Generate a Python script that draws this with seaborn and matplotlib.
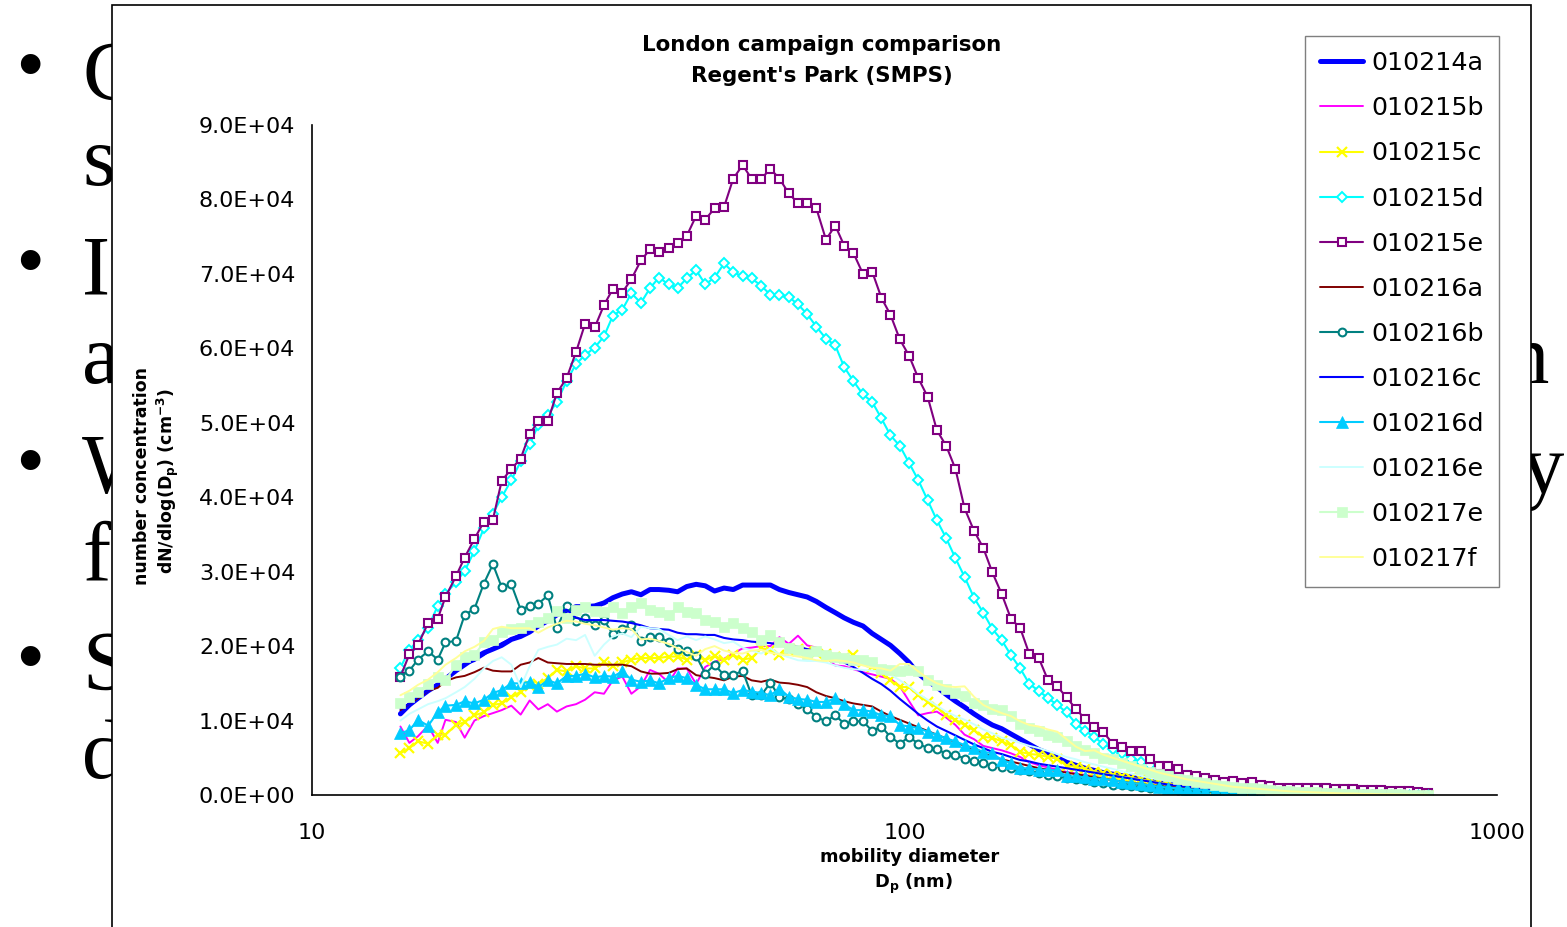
import numpy as np
import pandas as pd
import matplotlib
matplotlib.use("Agg")
import matplotlib.pyplot as plt
import seaborn as sns
from matplotlib.patches import Rectangle
from matplotlib.transforms import Bbox, TransformedBbox
from matplotlib.ticker import (MultipleLocator, LogLocator, FixedLocator,
                               FuncFormatter, NullFormatter)

# SMPS channel midpoints (nm), 64 channels per decade
diameter_nm = [
    14.1, 14.6, 15.1, 15.7, 16.3, 16.8, 17.5, 18.1, 18.8, 19.5,
    20.2, 20.9, 21.7, 22.5, 23.3, 24.1, 25.0, 25.9, 26.9, 27.9,
    28.9, 30.0, 31.1, 32.2, 33.4, 34.6, 35.9, 37.2, 38.5, 40.0,
    41.4, 42.9, 44.5, 46.1, 47.8, 49.6, 51.4, 53.3, 55.2, 57.3,
    59.4, 61.5, 63.8, 66.1, 68.5, 71.0, 73.7, 76.4, 79.1, 82.0,
    85.1, 88.2, 91.4, 94.7, 98.2, 101.8, 105.5, 109.4, 113.4, 117.6,
    121.9, 126.3, 131.0, 135.8, 140.7, 145.9, 151.2, 156.8, 162.5, 168.5,
    174.7, 181.1, 187.7, 194.6, 201.7, 209.1, 216.7, 224.7, 232.9, 241.4,
    250.3, 259.5, 269.0, 278.8, 289.0, 299.6, 310.6, 322.0, 333.8, 346.0,
    358.7, 371.8, 385.4, 399.5, 414.2, 429.4, 445.1, 461.4, 478.3, 495.8,
    514.0, 532.8, 552.3, 572.5, 593.5, 615.3, 637.8, 661.2, 685.4, 710.5,
    736.5, 763.5,
]

# dN/dlog(Dp) per sample, in thousands of particles per cm3
dn_010214a = [
    10.9, 12.1, 13.0, 14.0, 14.8, 15.6, 16.7, 17.5, 18.4, 19.1,
    19.6, 20.1, 20.9, 21.3, 21.9, 22.7, 23.4, 24.2, 24.8, 25.3,
    25.3, 25.4, 25.8, 26.5, 27.0, 27.3, 26.9, 27.6, 27.6, 27.5,
    27.3, 28.0, 28.3, 28.1, 27.4, 27.8, 27.6, 28.2, 28.2, 28.2,
    28.2, 27.6, 27.2, 26.9, 26.6, 26.0, 25.2, 24.5, 23.8, 23.2,
    22.7, 21.7, 20.9, 20.1, 19.0, 17.8, 16.3, 15.3, 14.5, 13.5,
    12.6, 11.8, 10.9, 10.1, 9.4, 8.9, 8.2, 7.5, 6.8, 6.1,
    5.6, 5.0, 4.4, 4.0, 3.6, 3.3, 3.0, 2.8, 2.6, 2.4,
    2.2, 2.0, 1.8, 1.6, 1.4, 1.2, 1.1, 1.0, 0.9, 0.8,
    0.7, 0.6, 0.5, 0.45, 0.4, 0.35, 0.3, 0.25, 0.2, 0.2,
    0.15, 0.15, 0.1, 0.1, 0.1, 0.08, 0.08, 0.06, 0.05, 0.05,
    0.04, 0.03,
]
dn_010215b = [
    9.2, 7.0, 7.9, 9.3, 7.0, 10.1, 9.8, 7.7, 10.0, 10.6,
    11.0, 11.4, 12.0, 10.8, 12.7, 11.5, 12.2, 11.2, 11.9, 12.2,
    12.8, 13.8, 13.6, 15.4, 15.9, 13.6, 14.6, 16.8, 16.3, 15.1,
    17.0, 17.0, 14.9, 17.2, 17.9, 18.3, 19.0, 19.7, 19.8, 20.0,
    20.0, 21.2, 20.3, 21.4, 20.1, 19.8, 18.5, 17.4, 17.3, 16.9,
    16.5, 16.2, 15.9, 15.6, 14.6, 12.6, 10.7, 11.0, 11.2, 10.4,
    9.4, 8.1, 7.5, 6.6, 6.3, 6.0, 5.6, 5.1, 4.4, 4.0,
    3.7, 3.4, 3.1, 2.9, 2.7, 2.5, 2.3, 2.1, 1.9, 1.7,
    1.5, 1.4, 1.2, 1.1, 1.0, 0.9, 0.8, 0.7, 0.6, 0.5,
    0.45, 0.4, 0.35, 0.3, 0.25, 0.2, 0.2, 0.15, 0.15, 0.1,
    0.1, 0.1, 0.08, 0.08, 0.06, 0.06, 0.05, 0.05, 0.04, 0.04,
    0.03, 0.03,
]
dn_010215c = [
    5.6, 6.3, 7.2, 6.9, 8.1, 8.1, 9.4, 9.8, 10.7, 11.1,
    12.1, 12.3, 13.1, 13.9, 14.6, 14.9, 15.7, 16.8, 16.6, 17.3,
    17.0, 17.0, 17.8, 17.3, 17.8, 18.2, 18.4, 18.4, 18.4, 18.6,
    18.6, 18.2, 18.8, 18.1, 18.7, 18.1, 18.8, 18.2, 18.4, 19.7,
    19.5, 18.8, 19.3, 19.6, 19.3, 19.1, 19.0, 18.6, 18.4, 18.8,
    17.9, 17.2, 16.4, 15.4, 14.5, 14.5, 13.4, 12.5, 11.8, 10.7,
    10.1, 9.4, 8.7, 7.8, 7.7, 7.2, 6.7, 5.8, 5.5, 5.4,
    5.1, 4.9, 3.9, 3.8, 3.5, 3.1, 2.9, 2.7, 2.5, 2.3,
    2.1, 1.9, 1.7, 1.5, 1.4, 1.2, 1.1, 1.0, 0.9, 0.8,
    0.7, 0.6, 0.5, 0.45, 0.4, 0.35, 0.3, 0.25, 0.2, 0.2,
    0.15, 0.15, 0.1, 0.1, 0.08, 0.08, 0.06, 0.06, 0.05, 0.05,
    0.04, 0.03,
]
dn_010215d = [
    17.1, 19.5, 20.8, 22.5, 25.4, 27.0, 28.6, 30.1, 32.8, 35.8,
    37.8, 40.0, 42.3, 44.8, 47.1, 49.7, 51.0, 52.8, 55.6, 57.9,
    59.1, 60.1, 61.6, 64.4, 65.2, 67.4, 66.1, 68.1, 69.5, 68.6,
    68.1, 69.4, 70.5, 68.6, 69.5, 71.4, 70.2, 69.7, 69.4, 68.4,
    67.2, 67.2, 66.9, 65.9, 64.6, 62.9, 61.3, 60.4, 57.5, 55.6,
    53.8, 52.8, 50.6, 48.3, 46.9, 44.6, 42.3, 39.6, 36.9, 34.5,
    31.8, 29.3, 26.5, 24.5, 22.3, 20.8, 18.8, 17.0, 14.9, 14.0,
    13.0, 12.1, 11.1, 9.6, 8.6, 7.8, 6.8, 6.2, 5.6, 4.9,
    4.4, 4.0, 3.7, 3.3, 3.0, 2.6, 2.3, 2.0, 1.8, 1.5,
    1.3, 1.1, 1.0, 0.9, 0.8, 0.7, 0.6, 0.5, 0.45, 0.4,
    0.35, 0.3, 0.3, 0.25, 0.2, 0.2, 0.15, 0.15, 0.1, 0.1,
    0.1, 0.05,
]
dn_010215e = [
    15.9, 18.9, 20.2, 23.1, 23.7, 26.6, 29.4, 31.9, 34.4, 36.7,
    37.0, 42.2, 43.8, 45.2, 48.5, 50.2, 50.2, 54.0, 56.0, 59.5,
    63.3, 62.8, 65.8, 68.0, 67.5, 69.3, 71.8, 73.3, 73.0, 73.5,
    74.1, 75.1, 77.8, 77.3, 78.8, 79.0, 82.8, 84.6, 82.8, 82.8,
    84.1, 82.8, 80.8, 79.5, 79.5, 78.8, 74.6, 76.5, 73.8, 72.8,
    70.0, 70.3, 66.8, 64.5, 61.2, 59.0, 56.0, 53.5, 49.0, 46.9,
    43.8, 38.5, 35.5, 33.2, 29.9, 27.0, 23.7, 22.4, 18.9, 18.4,
    15.4, 14.6, 13.1, 11.6, 10.2, 9.1, 8.4, 6.9, 6.4, 5.9,
    5.9, 4.9, 3.9, 3.9, 3.5, 2.7, 2.6, 2.3, 2.0, 1.8,
    1.9, 1.6, 1.7, 1.3, 1.2, 1.0, 1.0, 0.9, 0.9, 0.9,
    0.9, 0.8, 0.8, 0.8, 0.7, 0.7, 0.7, 0.6, 0.6, 0.5,
    0.4, 0.3,
]
dn_010216a = [
    11.4, 12.3, 13.0, 14.0, 14.4, 15.3, 15.8, 16.0, 16.5, 17.1,
    16.7, 16.6, 16.6, 17.5, 17.8, 18.4, 17.8, 17.7, 17.6, 17.6,
    17.6, 17.5, 17.5, 17.5, 17.5, 17.3, 16.6, 16.3, 16.3, 16.4,
    16.9, 17.0, 16.1, 15.9, 15.7, 15.4, 15.9, 16.0, 15.4, 15.2,
    15.5, 15.1, 15.0, 14.8, 14.5, 13.8, 13.3, 13.0, 12.6, 12.3,
    12.1, 11.9, 11.2, 10.6, 10.1, 9.6, 9.1, 8.6, 8.1, 7.6,
    7.1, 6.6, 6.1, 5.6, 5.2, 4.8, 4.5, 4.2, 3.9, 3.6,
    3.4, 3.2, 3.0, 2.8, 2.6, 2.4, 2.2, 2.0, 1.8, 1.6,
    1.5, 1.3, 1.2, 1.1, 1.0, 0.9, 0.8, 0.7, 0.6, 0.5,
    0.45, 0.4, 0.35, 0.3, 0.25, 0.2, 0.2, 0.15, 0.15, 0.1,
    0.1, 0.1, 0.08, 0.08, 0.06, 0.06, 0.05, 0.05, 0.04, 0.04,
    0.03, 0.03,
]
dn_010216b = [
    15.9, 16.7, 18.2, 19.3, 18.2, 20.5, 20.7, 24.2, 25.0, 28.4,
    31.0, 27.9, 28.3, 24.9, 25.4, 25.7, 26.8, 22.4, 25.4, 23.4,
    23.8, 22.9, 23.5, 21.6, 22.3, 22.9, 20.7, 21.2, 21.2, 20.6,
    19.6, 19.4, 18.7, 16.3, 17.5, 16.1, 16.1, 16.7, 13.4, 13.4,
    15.1, 13.1, 12.9, 12.2, 11.6, 10.5, 9.9, 10.7, 9.6, 9.9,
    9.9, 8.6, 9.2, 7.8, 6.9, 7.8, 6.9, 6.3, 6.2, 5.5,
    5.4, 4.9, 4.6, 4.3, 3.9, 3.8, 3.6, 3.4, 3.2, 3.0,
    2.7, 2.5, 2.3, 2.2, 2.0, 1.8, 1.6, 1.4, 1.3, 1.2,
    1.1, 1.0, 0.9, 0.8, 0.7, 0.6, 0.55, 0.5, 0.45, 0.4,
    0.35, 0.3, 0.3, 0.25, 0.25, 0.2, 0.2, 0.15, 0.15, 0.15,
    0.1, 0.1, 0.1, 0.1, 0.08, 0.08, 0.06, 0.06, 0.05, 0.05,
    0.04, 0.04,
]
dn_010216c = [
    11.6, 12.3, 13.2, 14.0, 14.8, 15.6, 16.8, 17.5, 18.0, 18.8,
    19.7, 20.4, 21.0, 21.6, 22.2, 22.8, 23.4, 24.3, 24.9, 23.8,
    23.5, 23.5, 23.5, 23.4, 23.3, 23.1, 22.8, 22.4, 22.3, 22.2,
    21.8, 21.6, 21.6, 21.5, 21.5, 21.1, 20.9, 20.8, 20.6, 20.5,
    20.4, 20.2, 20.1, 19.9, 19.6, 19.3, 18.9, 18.5, 17.8, 17.2,
    16.4, 15.6, 14.9, 14.0, 12.9, 11.9, 10.9, 10.0, 9.2, 8.6,
    8.0, 7.4, 6.8, 6.3, 5.8, 5.5, 5.1, 4.7, 4.5, 4.2,
    4.0, 3.8, 3.6, 3.4, 3.2, 3.0, 2.8, 2.6, 2.4, 2.2,
    2.0, 1.8, 1.6, 1.4, 1.3, 1.1, 1.0, 0.9, 0.8, 0.7,
    0.6, 0.5, 0.45, 0.4, 0.35, 0.3, 0.25, 0.2, 0.2, 0.15,
    0.15, 0.1, 0.1, 0.1, 0.08, 0.08, 0.06, 0.06, 0.05, 0.05,
    0.04, 0.03,
]
dn_010216d = [
    8.3, 8.7, 10.1, 9.3, 11.1, 12.0, 12.1, 12.6, 12.3, 12.8,
    13.7, 14.1, 15.0, 15.0, 15.2, 14.5, 15.4, 15.0, 16.0, 16.0,
    16.3, 15.8, 16.0, 15.9, 16.6, 15.5, 15.2, 15.4, 15.0, 15.7,
    16.0, 15.7, 14.8, 14.2, 14.2, 14.2, 13.7, 14.1, 13.9, 13.7,
    13.4, 14.3, 13.2, 12.9, 12.8, 12.5, 12.5, 13.0, 12.2, 11.4,
    11.4, 11.2, 10.7, 10.6, 9.4, 9.2, 9.0, 8.5, 8.1, 7.6,
    7.2, 6.7, 6.3, 5.8, 5.6, 4.7, 4.3, 3.6, 3.6, 3.4,
    3.4, 3.3, 2.5, 2.5, 2.4, 2.2, 2.2, 2.0, 1.8, 1.6,
    1.5, 1.3, 1.1, 1.0, 0.9, 0.8, 0.7, 0.6, 0.5, 0.4,
    0.35, 0.3, 0.25, 0.2, 0.2, 0.15, 0.15, 0.1, 0.1, 0.1,
    0.08, 0.08, 0.06, 0.06, 0.05, 0.05, 0.04, 0.04, 0.03, 0.03,
    0.02, 0.02,
]
dn_010216e = [
    10.0, 10.9, 11.5, 12.2, 12.6, 13.0, 13.8, 14.5, 15.6, 17.0,
    18.0, 18.5, 17.5, 14.5, 17.3, 19.5, 19.9, 20.2, 21.0, 20.8,
    21.5, 18.7, 20.2, 21.3, 21.7, 21.2, 22.6, 22.4, 22.3, 21.5,
    20.8, 21.3, 20.8, 21.3, 20.9, 20.4, 20.6, 19.8, 19.4, 19.0,
    19.7, 18.9, 18.5, 18.1, 18.0, 18.0, 17.8, 17.4, 17.1, 16.9,
    16.8, 16.7, 16.6, 16.2, 15.4, 14.6, 13.6, 12.8, 12.0, 11.2,
    10.6, 10.1, 9.5, 8.8, 8.3, 7.7, 7.4, 7.0, 6.6, 6.3,
    5.9, 5.5, 5.1, 4.8, 4.4, 4.1, 3.8, 3.5, 3.2, 2.9,
    2.6, 2.3, 2.1, 1.9, 1.7, 1.5, 1.3, 1.1, 1.0, 0.9,
    0.8, 0.7, 0.6, 0.5, 0.45, 0.4, 0.35, 0.3, 0.25, 0.2,
    0.2, 0.15, 0.15, 0.1, 0.1, 0.08, 0.08, 0.06, 0.05, 0.05,
    0.04, 0.03,
]
dn_010217e = [
    12.3, 13.2, 13.8, 14.9, 15.9, 15.4, 17.5, 18.5, 18.8, 20.5,
    20.8, 21.9, 22.3, 22.5, 22.8, 23.3, 23.8, 24.7, 23.8, 24.8,
    25.2, 24.7, 24.6, 25.2, 24.4, 25.3, 25.8, 24.9, 24.6, 24.2,
    25.2, 24.6, 24.4, 23.5, 23.3, 22.6, 23.1, 22.4, 21.9, 20.8,
    21.5, 20.6, 19.7, 19.5, 19.0, 19.3, 18.8, 18.5, 18.4, 18.1,
    18.1, 17.8, 16.9, 16.8, 16.6, 16.8, 16.6, 15.4, 14.8, 14.3,
    13.7, 13.3, 12.3, 12.1, 11.5, 11.4, 10.6, 9.5, 9.0, 8.6,
    8.0, 7.8, 7.2, 6.6, 6.0, 5.7, 5.0, 4.8, 4.3, 3.9,
    3.5, 3.1, 2.8, 2.5, 2.2, 2.0, 1.8, 1.6, 1.4, 1.2,
    1.1, 1.0, 0.9, 0.8, 0.7, 0.6, 0.5, 0.45, 0.4, 0.35,
    0.3, 0.25, 0.2, 0.2, 0.15, 0.15, 0.1, 0.1, 0.1, 0.05,
    0.05, 0.02,
]
dn_010217f = [
    13.4, 14.0, 14.8, 15.5, 16.5, 17.5, 18.4, 19.3, 19.9, 20.7,
    22.3, 22.6, 22.4, 22.4, 22.4, 21.8, 22.5, 23.0, 23.4, 23.3,
    23.0, 22.8, 22.5, 22.2, 22.4, 22.3, 20.9, 21.0, 20.7, 20.3,
    19.7, 19.2, 18.7, 19.6, 20.0, 19.4, 19.1, 19.0, 19.4, 19.5,
    19.1, 18.9, 18.8, 18.6, 18.4, 18.1, 18.0, 18.1, 18.0, 17.8,
    17.4, 17.1, 17.0, 16.7, 17.6, 17.6, 16.6, 15.7, 15.0, 14.6,
    14.5, 14.6, 13.2, 12.1, 11.5, 11.0, 10.6, 9.9, 9.4, 9.2,
    8.8, 8.5, 7.5, 6.5, 5.9, 6.0, 5.4, 5.0, 4.6, 4.2,
    3.8, 3.4, 3.0, 2.7, 2.4, 2.1, 1.9, 1.7, 1.5, 1.3,
    1.1, 1.0, 0.9, 0.8, 0.7, 0.6, 0.5, 0.45, 0.4, 0.35,
    0.3, 0.25, 0.2, 0.2, 0.15, 0.15, 0.1, 0.1, 0.08, 0.06,
    0.05, 0.03,
]

sample_ids = ["010214a", "010215b", "010215c", "010215d", "010215e", "010216a",
              "010216b", "010216c", "010216d", "010216e", "010217e", "010217f"]
sample_values = [dn_010214a, dn_010215b, dn_010215c, dn_010215d, dn_010215e,
                 dn_010216a, dn_010216b, dn_010216c, dn_010216d, dn_010216e,
                 dn_010217e, dn_010217f]

y_ticks = [0, 10000, 20000, 30000, 40000, 50000, 60000, 70000, 80000, 90000]
x_ticks = [10, 100, 1000]

# line / marker style of each sample
styles = {
    "010214a": dict(color="#0000FF", lw=3.6),
    "010215b": dict(color="#FF00FF", lw=1.4),
    "010215c": dict(color="#FFFF00", lw=1.5, marker="x", ms=7, mew=1.6, mec="#FFFF00"),
    "010215d": dict(color="#00FFFF", lw=1.5, marker="D", ms=5.2, mew=1.4,
                    mec="#00FFFF", mfc="white"),
    "010215e": dict(color="#800080", lw=1.5, marker="s", ms=5.8, mew=1.5,
                    mec="#800080", mfc="white"),
    "010216a": dict(color="#800000", lw=1.4),
    "010216b": dict(color="#008080", lw=1.5, marker="o", ms=5.6, mew=1.5,
                    mec="#008080", mfc="white"),
    "010216c": dict(color="#0000FF", lw=1.5),
    "010216d": dict(color="#00CCFF", lw=1.5, marker="^", ms=8.5, mew=0.5,
                    mec="#00CCFF", mfc="#00CCFF"),
    "010216e": dict(color="#CCFFFF", lw=1.4),
    "010217e": dict(color="#CCFFCC", lw=1.5, marker="s", ms=7.5, mew=0.5,
                    mec="#CCFFCC", mfc="#CCFFCC"),
    "010217f": dict(color="#FFFF99", lw=1.4),
}

df = pd.DataFrame({
    "diameter": np.tile(diameter_nm, len(sample_ids)),
    "dn": np.concatenate(sample_values) * 1000.0,
    "sample": np.repeat(sample_ids, len(diameter_nm)),
})

sns.set_style("white")
plt.rcParams["font.family"] = ["DejaVu Sans"]
plt.rcParams["mathtext.fontset"] = "dejavusans"
for key in ["text.color", "axes.labelcolor", "xtick.color", "ytick.color",
            "axes.edgecolor"]:
    plt.rcParams[key] = "black"

W, H = 1567, 927
fig = plt.figure(figsize=(W / 100, H / 100), dpi=100)
fig.patch.set_facecolor("white")


def fx(px):
    return px / W


def fy(py):
    return 1 - py / H


# slide bullet text peeking out around the chart frame
left_clip = TransformedBbox(Bbox([[0, 0], [fx(112), 1]]), fig.transFigure)
right_clip = TransformedBbox(Bbox([[fx(1531), 0], [1, 1]]), fig.transFigure)

serif = "Liberation Serif"
for yb in [70, 266, 465, 661]:
    fig.text(fx(30), fy(yb), "\u2022", ha="center", va="center", fontsize=52,
             family="Liberation Sans", color="black", zorder=-3)
slide_starts = [(100, "C"), (185, "s"), (295, "I"), (383, "a"),
                (493, "W"), (580, "f"), (690, "S"), (778, "d")]
for yb, txt in slide_starts:
    t = fig.text(fx(82), fy(yb), txt, ha="left", va="baseline", fontsize=61,
                 family=serif, color="black", zorder=-3)
    t.set_clip_box(left_clip)
    t.set_clip_on(True)
for yb, xr, txt in [(383, 1549, "n"), (493, 1564, "y")]:
    t = fig.text(fx(xr), fy(yb), txt, ha="right", va="baseline", fontsize=61,
                 family=serif, color="black", zorder=-3)
    t.set_clip_box(right_clip)
    t.set_clip_on(True)

# chart frame
frame = Rectangle((fx(112), fy(940)), fx(1531) - fx(112), fy(5) - fy(940),
                  transform=fig.transFigure, facecolor="white",
                  edgecolor="black", linewidth=1.2, zorder=-1)
fig.add_artist(frame)

ax = fig.add_axes([fx(312), fy(795), fx(1497) - fx(312), fy(125) - fy(795)])
ax.set_facecolor("none")
ax.set_xscale("log")

for sid in sample_ids:
    sub = df[df["sample"] == sid]
    sns.lineplot(data=sub, x="diameter", y="dn", ax=ax, label=sid,
                 estimator=None, sort=False, **styles[sid])

ax.set_xlim(10, 1000)
ax.set_ylim(0, 90000)
ax.set_xlabel("")
ax.set_ylabel("")

ax.xaxis.set_major_locator(FixedLocator(x_ticks))
ax.xaxis.set_major_formatter(FuncFormatter(lambda v, _: f"{v:g}"))
ax.xaxis.set_minor_locator(LogLocator(base=10, subs=range(2, 10)))
ax.xaxis.set_minor_formatter(NullFormatter())
ax.yaxis.set_major_locator(FixedLocator(y_ticks))
ax.yaxis.set_major_formatter(FuncFormatter(lambda v, _: f"{v:.1E}"))
ax.yaxis.set_minor_locator(MultipleLocator(2000))

for side in ["top", "right"]:
    ax.spines[side].set_visible(False)
for side in ["left", "bottom"]:
    ax.spines[side].set_color("black")
    ax.spines[side].set_linewidth(1.2)

ax.tick_params(axis="both", which="major", direction="out", length=6,
               width=1.1, color="black", labelsize=16, labelcolor="black")
ax.tick_params(axis="both", which="minor", direction="out", length=3.5,
               width=1.0, color="black")
ax.tick_params(axis="y", which="major", pad=6)
ax.tick_params(axis="x", which="major", pad=14)

# titles and axis labels
fig.text(fx(822), fy(45), "London campaign comparison", ha="center",
         va="center", fontsize=15.4, weight="bold")
fig.text(fx(822), fy(76), "Regent's Park (SMPS)", ha="center", va="center",
         fontsize=15.4, weight="bold")
fig.text(fx(910), fy(857), "mobility diameter", ha="center", va="center",
         fontsize=12.9, weight="bold")
fig.text(fx(913), fy(884), r"$\mathbf{D_p}$ (nm)", ha="center", va="center",
         fontsize=12.9, weight="bold")
fig.text(fx(142), fy(476), "number concentration", ha="center", va="center",
         rotation=90, fontsize=12.5, weight="bold")
fig.text(fx(168), fy(481), r"dN/dlog($\mathbf{D_p}$) (cm$^{\mathbf{-3}}$)",
         ha="center", va="center", rotation=90, fontsize=12.5, weight="bold")

handles, labels = ax.get_legend_handles_labels()
leg = ax.legend(handles, labels, loc="upper left",
                bbox_to_anchor=(fx(1305), fy(36)),
                bbox_transform=fig.transFigure, borderaxespad=0,
                fontsize=18.3, frameon=True, fancybox=False, framealpha=1,
                edgecolor="#7f7f7f", labelspacing=0.83, handlelength=1.7,
                handletextpad=0.3, borderpad=0.6, numpoints=1)
leg.get_frame().set_linewidth(1.0)

fig.savefig("out.png", dpi=100, facecolor="white")
